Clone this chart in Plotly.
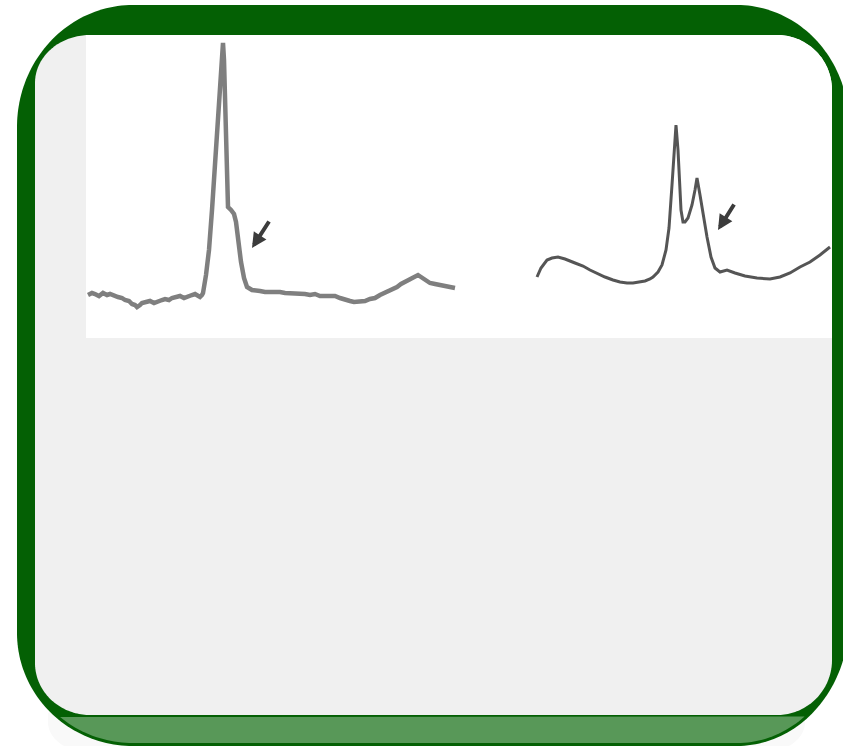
import numpy as np
import plotly.graph_objects as go

W, H = 843, 746

# ---- data (shift, intensity in arbitrary units) ----
spec_a_shift = [2, 6, 9, 13, 17, 21, 24, 28, 32, 36, 39, 43, 46, 49, 51, 54, 56, 60, 64, 68,
                72, 76, 79, 83, 86, 90, 94, 98, 102, 106, 109, 112, 114, 116, 117,
                120, 123, 126, 129, 132, 134, 136, 137, 138, 139, 140, 141, 142,
                145, 148, 150, 152, 155, 158, 161, 166, 170, 174, 179, 184, 189, 194,
                199, 204, 209, 214, 219, 224, 229, 234, 239, 244, 249, 254, 259, 264,
                268, 271, 275, 279, 284, 289, 294, 299, 305, 311, 315, 319, 323, 326,
                329, 332, 335, 338, 341, 344, 349, 354, 358, 362, 366, 369]
spec_a_intensity = [43, 45, 44, 42, 45, 43, 44, 42, 41, 40, 38, 37, 34, 33, 31, 33, 35, 36, 37, 35,
                    36, 38, 39, 38, 40, 41, 42, 40, 42, 43, 44, 42, 41, 43, 45,
                    63, 88, 128, 178, 228, 263, 288, 295, 278, 228, 178, 143, 131,
                    128, 124, 116, 98, 76, 60, 51, 48, 47, 47, 46, 46, 47, 46,
                    45, 45, 44, 45, 44, 43, 44, 42, 42, 41, 42, 40, 39, 37,
                    36, 36, 37, 37, 39, 40, 43, 45, 48, 51, 54, 56, 58, 60,
                    62, 63, 61, 59, 57, 55, 54, 53, 52, 51, 51, 50]

spec_b_shift = [451, 455, 461, 466, 472, 479, 489, 497, 504, 512, 519, 527, 534, 541, 547, 553,
                559, 564, 567, 572, 576, 580, 583, 586, 588, 590, 592, 594, 595, 597,
                599, 602, 606, 609, 611, 614, 617, 621, 625, 629, 634, 641, 649, 659,
                671, 684, 694, 704, 714, 724, 734, 744]
spec_b_intensity = [61, 70, 78, 80, 81, 79, 75, 72, 68, 64, 61, 58, 56, 55, 55, 56,
                    57, 59, 61, 66, 73, 88, 110, 153, 188, 213, 188, 153, 128, 116,
                    116, 120, 133, 148, 160, 143, 123, 101, 81, 70, 66, 68, 65, 62,
                    60, 59, 61, 65, 71, 76, 83, 91]

# ---- geometry helpers (layout only) ----
def rr_points(x0, y0, x1, y1, tl, tr, br, bl, n=48):
    pts = []
    corners = [((x0 + tl[0], y0 + tl[1]), tl, 180, 270),
               ((x1 - tr[0], y0 + tr[1]), tr, 270, 360),
               ((x1 - br[0], y1 - br[1]), br, 0, 90),
               ((x0 + bl[0], y1 - bl[1]), bl, 90, 180)]
    for (cx, cy), (rx, ry), a0, a1 in corners:
        for a in np.linspace(np.radians(a0), np.radians(a1), n):
            pts.append((cx + rx * np.cos(a), cy + ry * np.sin(a)))
    return pts

def to_path(pts):
    return "M " + " L ".join(f"{x / W:.5f},{1 - y / H:.5f}" for x, y in pts) + " Z"

def pshape(pts, color):
    return dict(type="path", xref="paper", yref="paper", path=to_path(pts),
                fillcolor=color, line=dict(width=0), layer="below")

DARK = "#046004"
LIGHT = "#589858"

shadow = rr_points(48, 712, 805, 752, (2, 2), (2, 2), (40, 30), (40, 30))
outer = rr_points(17, 5, 849, 746, (116, 122), (112, 120), (112, 126), (116, 113))
band_src = rr_points(20, 8, 846, 743, (113, 119), (109, 117), (109, 123), (113, 110))
band = [p for p in band_src if p[1] >= 716]
inner = rr_points(35, 35, 832, 715, (55, 48), (55, 55), (55, 55), (55, 52))
panel = rr_points(86, 35, 832, 338, (0.01, 0.01), (55, 55), (0.01, 0.01), (0.01, 0.01))

shapes = [pshape(shadow, "#f9f9f9"), pshape(outer, DARK), pshape(band, LIGHT),
          pshape(inner, "#f0f0f0"), pshape(panel, "#ffffff")]

fig = go.Figure()
fig.add_trace(go.Scatter(x=spec_a_shift, y=spec_a_intensity, mode="lines",
                         line=dict(color="#7f7f7f", width=4.5), xaxis="x2", yaxis="y2",
                         hoverinfo="skip", showlegend=False))
fig.add_trace(go.Scatter(x=spec_b_shift, y=spec_b_intensity, mode="lines",
                         line=dict(color="#555555", width=3), xaxis="x2", yaxis="y2",
                         hoverinfo="skip", showlegend=False))

arrows = [dict(x=166, y=90, ax=184, ay=118), dict(x=632, y=108, ax=649, ay=135)]
annotations = []
for a in arrows:
    annotations.append(dict(x=a["x"], y=a["y"], ax=a["ax"], ay=a["ay"], xref="x2", yref="y2",
                            axref="x2", ayref="y2", text="", showarrow=True,
                            arrowhead=2, arrowsize=0.75, arrowwidth=4, arrowcolor="#3c3c3c"))

fig.update_layout(
    width=W, height=H, margin=dict(l=0, r=0, t=0, b=0),
    paper_bgcolor="#ffffff", plot_bgcolor="rgba(0,0,0,0)",
    shapes=shapes, annotations=annotations, showlegend=False,
    xaxis2=dict(domain=[86 / W, 832 / W], range=[0, 746], visible=False, anchor="y2",
                fixedrange=True),
    yaxis2=dict(domain=[1 - 338 / H, 1 - 35 / H], range=[0, 303], visible=False, anchor="x2",
                fixedrange=True),
    xaxis=dict(visible=False), yaxis=dict(visible=False),
)

fig.write_html("out.html", config={"displayModeBar": False},
               post_script="document.body.style.margin='0';document.body.style.overflow='hidden';")
